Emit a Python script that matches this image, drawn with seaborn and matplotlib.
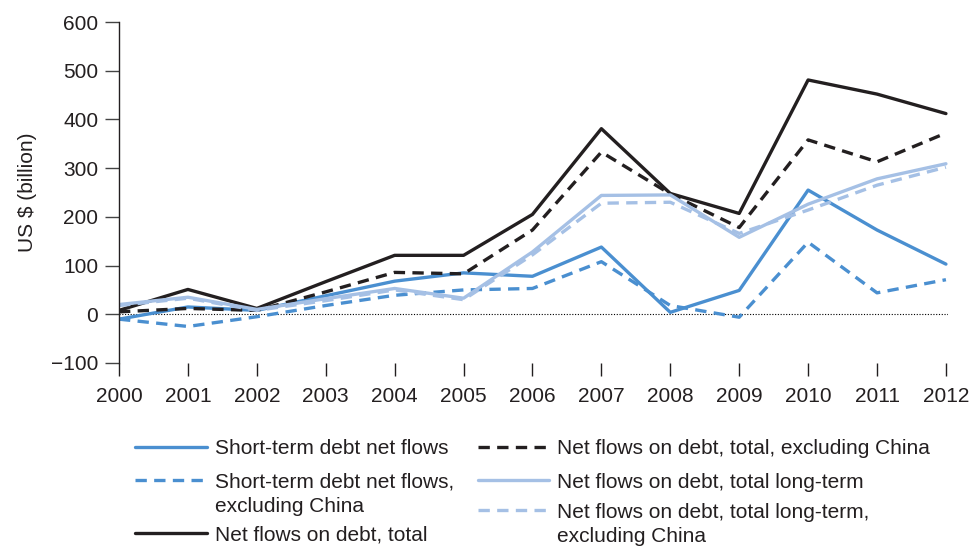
import numpy as np
import pandas as pd
import matplotlib
matplotlib.use('Agg')
import matplotlib.pyplot as plt
from matplotlib.lines import Line2D
import seaborn as sns

years = list(range(2000, 2013))

short_term = [-10, 15, 8, 38, 68, 85, 78, 138, 4, 49, 255, 173, 103]
short_term_ex_china = [-10, -25, -5, 18, 39, 50, 53, 108, 18, -6, 148, 44, 71]
total = [8, 51, 12, 67, 121, 121, 205, 381, 248, 207, 481, 452, 412]
total_ex_china = [5, 12, 8, 46, 86, 83, 173, 333, 247, 178, 358, 313, 372]
long_term = [20, 35, 10, 32, 53, 33, 128, 244, 245, 158, 226, 278, 309]
long_term_ex_china = [18, 33, 8, 28, 50, 30, 122, 228, 230, 166, 214, 265, 302]

labels = [
    "Short-term debt net flows",
    "Short-term debt net flows,\nexcluding China",
    "Net flows on debt, total",
    "Net flows on debt, total, excluding China",
    "Net flows on debt, total long-term",
    "Net flows on debt, total long-term,\nexcluding China",
]
series = [short_term, short_term_ex_china, total, total_ex_china, long_term, long_term_ex_china]

MID_BLUE = "#4a8fd0"
LIGHT_BLUE = "#a5c0e5"
BLACK = "#231f20"
DASH = (0, (3.4, 2.2))
colors = [MID_BLUE, MID_BLUE, BLACK, BLACK, LIGHT_BLUE, LIGHT_BLUE]
styles = ["-", DASH, "-", DASH, "-", DASH]
# legend slots: (column, pixel y of first text line)
legend_slots = [(0, 447), (0, 480), (0, 533), (1, 447), (1, 480), (1, 510)]

sns.set_style("white")
plt.rcParams['font.family'] = ['Liberation Sans', 'DejaVu Sans']

W, H = 973, 546
FS = 15
fig = plt.figure(figsize=(W / 100, H / 100), dpi=100)
ax = fig.add_axes([119 / W, 1 - 363 / H, (948 - 119) / W, (363 - 22) / H])

for lab, vals, c, ls in zip(labels, series, colors, styles):
    sns.lineplot(x=years, y=vals, ax=ax, color=c, linestyle=ls, lw=2.4, legend=False)

ax.axhline(0, color="black", lw=0.8, ls=(0, (1, 1.5)), zorder=0)

ax.set_xlim(2000, 2012.03)
ax.set_ylim(-100, 600)
ax.set_yticks(range(-100, 601, 100))
ax.set_yticklabels(["\u2212100"] + [str(v) for v in range(0, 601, 100)])
ax.set_xticks(years)
ax.set_xticklabels([str(y) for y in years])
for s in ["top", "right", "bottom"]:
    ax.spines[s].set_visible(False)
ax.spines["left"].set_color(BLACK)
ax.spines["left"].set_linewidth(1.0)
ax.tick_params(axis="y", direction="out", length=10, width=1.0, color="#444444",
               labelsize=FS, pad=5, left=True, labelcolor=BLACK)
ax.tick_params(axis="x", direction="out", length=9, width=1.0, color=BLACK,
               labelsize=FS, pad=8, bottom=True, labelcolor=BLACK)
ax.set_ylabel("US $ (billion)", fontsize=FS, labelpad=10, color=BLACK)
ax.grid(False)

# legend drawn below the plot in two columns
col_x = [(135, 207, 215), (478, 549, 557)]
for (col, ry), lab, c, ls in zip(legend_slots, labels, colors, styles):
    x0, x1, tx = col_x[col]
    yf = 1 - ry / H
    fig.add_artist(Line2D([x0 / W, x1 / W], [yf, yf], transform=fig.transFigure,
                          color=c, linestyle=ls, lw=2.4))
    for i, line in enumerate(lab.split("\n")):
        fig.text(tx / W, 1 - (ry + 24 * i) / H, line, fontsize=FS,
                 va="center_baseline", ha="left", color=BLACK)

fig.savefig("out.png", dpi=100)
